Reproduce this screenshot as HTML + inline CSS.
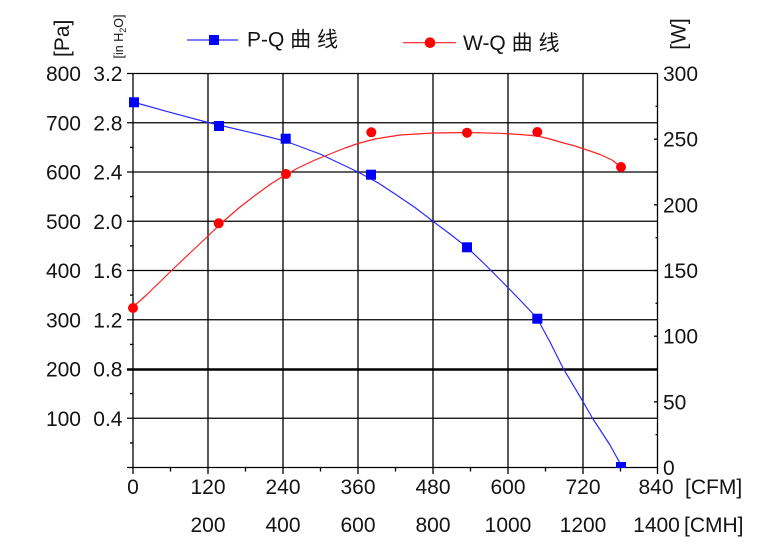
<!DOCTYPE html>
<html>
<head>
<meta charset="utf-8">
<style>
html,body{margin:0;padding:0;background:#fff;}
svg{display:block;}
text{font-family:"Liberation Sans","Noto Sans CJK SC",sans-serif;fill:#141414;}
</style>
</head>
<body>
<svg width="762" height="544" viewBox="0 0 762 544" xmlns="http://www.w3.org/2000/svg">
<rect width="762" height="544" fill="#fff"/>
<!-- grid horizontal -->
<g stroke="#000" stroke-width="1.3" fill="none">
<line x1="127" y1="73.5" x2="657.5" y2="73.5"/>
<line x1="127" y1="122.75" x2="657.5" y2="122.75"/>
<line x1="127" y1="172" x2="657.5" y2="172"/>
<line x1="127" y1="221.25" x2="657.5" y2="221.25"/>
<line x1="127" y1="270.5" x2="657.5" y2="270.5"/>
<line x1="127" y1="319.75" x2="657.5" y2="319.75"/>
<line x1="127" y1="418.25" x2="657.5" y2="418.25"/>
<line x1="127" y1="467.5" x2="657.5" y2="467.5"/>
</g>
<line x1="127" y1="369.5" x2="657.5" y2="369.5" stroke="#000" stroke-width="2.6"/>
<!-- grid vertical -->
<g stroke="#000" stroke-width="1.3" fill="none">
<line x1="133" y1="73.5" x2="133" y2="474"/>
<line x1="208" y1="73.5" x2="208" y2="474"/>
<line x1="283" y1="73.5" x2="283" y2="474"/>
<line x1="358" y1="73.5" x2="358" y2="474"/>
<line x1="433" y1="73.5" x2="433" y2="474"/>
<line x1="508" y1="73.5" x2="508" y2="474"/>
<line x1="583" y1="73.5" x2="583" y2="474"/>
<line x1="657.5" y1="73.5" x2="657.5" y2="474"/>
</g>
<!-- minor ticks -->
<g stroke="#000" stroke-width="1.3">
<line x1="130" y1="98.1" x2="133" y2="98.1"/>
<line x1="130" y1="147.4" x2="133" y2="147.4"/>
<line x1="130" y1="196.6" x2="133" y2="196.6"/>
<line x1="130" y1="245.9" x2="133" y2="245.9"/>
<line x1="130" y1="295.1" x2="133" y2="295.1"/>
<line x1="130" y1="344.4" x2="133" y2="344.4"/>
<line x1="130" y1="393.6" x2="133" y2="393.6"/>
<line x1="130" y1="442.9" x2="133" y2="442.9"/>
<line x1="170.5" y1="467.5" x2="170.5" y2="471.5"/>
<line x1="245.5" y1="467.5" x2="245.5" y2="471.5"/>
<line x1="320.5" y1="467.5" x2="320.5" y2="471.5"/>
<line x1="395.5" y1="467.5" x2="395.5" y2="471.5"/>
<line x1="470.5" y1="467.5" x2="470.5" y2="471.5"/>
<line x1="545.5" y1="467.5" x2="545.5" y2="471.5"/>
<line x1="620.5" y1="467.5" x2="620.5" y2="471.5"/>
<line x1="654" y1="139.2" x2="657.5" y2="139.2"/>
<line x1="654" y1="204.8" x2="657.5" y2="204.8"/>
<line x1="654" y1="270.5" x2="657.5" y2="270.5"/>
<line x1="654" y1="336.2" x2="657.5" y2="336.2"/>
<line x1="654" y1="401.8" x2="657.5" y2="401.8"/>
<line x1="655.5" y1="106.3" x2="657.5" y2="106.3"/>
<line x1="655.5" y1="172" x2="657.5" y2="172"/>
<line x1="655.5" y1="237.7" x2="657.5" y2="237.7"/>
<line x1="655.5" y1="303.3" x2="657.5" y2="303.3"/>
<line x1="655.5" y1="369" x2="657.5" y2="369"/>
<line x1="655.5" y1="434.7" x2="657.5" y2="434.7"/>
</g>
<!-- curves -->
<polyline fill="none" stroke="#2a2aff" stroke-width="1.2" stroke-linejoin="round"
points="133,102 170,112.3 208,122.5 250,132.3 285,141 320,154 358,172 378,182.8 395,194 415,207.5 433,221.3 450,234 467,247.3 485,264.5 500,279.5 520,300 537,318 550,342 563,368 583,401.7 593,419 610,445 621,465"/>
<polyline fill="none" stroke="#ff2020" stroke-width="1.2" stroke-linejoin="round"
points="133,307 147,294.5 170,272 190,253 207,237 222,222.5 240,207 255,195.5 270,184.5 285,175 300,167 315,160 330,154 345,148 358,143.5 375,139 400,135 433,133 467,132.5 500,133.3 520,134.5 537,136 550,139 560,142 575,146 590,151 600,154.5 612,160 621,167"/>
<!-- markers -->
<g fill="#0000ff">
<rect x="129" y="97.3" width="10" height="10"/>
<rect x="214" y="121" width="10" height="10"/>
<rect x="280.7" y="133.7" width="10" height="10"/>
<rect x="366" y="169.7" width="10" height="10"/>
<rect x="462" y="242.3" width="10" height="10"/>
<rect x="532.3" y="313.7" width="10" height="10"/>
<rect x="616" y="462" width="10" height="6"/>
</g>
<g fill="#ff0000">
<circle cx="133" cy="308" r="5"/>
<circle cx="218.7" cy="223.3" r="5"/>
<circle cx="286" cy="174" r="5"/>
<circle cx="371.3" cy="132.3" r="5"/>
<circle cx="467" cy="132.7" r="5"/>
<circle cx="537.3" cy="132" r="5"/>
<circle cx="621" cy="167" r="5"/>
</g>
<!-- legend -->
<line x1="187" y1="40" x2="238" y2="40" stroke="#2a2aff" stroke-width="1.2"/>
<rect x="209" y="35" width="10" height="10" fill="#0000ff"/>
<text x="247" y="46.5" font-size="21">P-Q 曲 线</text>
<line x1="403" y1="42.7" x2="456" y2="42.7" stroke="#ff2020" stroke-width="1.2"/>
<circle cx="430" cy="42.7" r="5.3" fill="#ff0000"/>
<text x="463" y="50" font-size="21">W-Q 曲 线</text>
<!-- axis titles -->
<text transform="translate(69,38.3) rotate(-90)" text-anchor="middle" font-size="21">[Pa]</text>
<text transform="translate(123,36.5) rotate(-90)" text-anchor="middle" font-size="12.5">[in H<tspan font-size="9" dy="3">2</tspan><tspan dy="-3">O]</tspan></text>
<text transform="translate(685.5,34) rotate(-90)" text-anchor="middle" font-size="21">[W]</text>
<!-- left labels -->
<g font-size="21" text-anchor="end">
<text x="81" y="81">800</text>
<text x="81" y="130.3">700</text>
<text x="81" y="179.5">600</text>
<text x="81" y="228.8">500</text>
<text x="81" y="278">400</text>
<text x="81" y="327.3">300</text>
<text x="81" y="376.5">200</text>
<text x="81" y="425.8">100</text>
<text x="122.5" y="81">3.2</text>
<text x="122.5" y="130.3">2.8</text>
<text x="122.5" y="179.5">2.4</text>
<text x="122.5" y="228.8">2.0</text>
<text x="122.5" y="278">1.6</text>
<text x="122.5" y="327.3">1.2</text>
<text x="122.5" y="376.5">0.8</text>
<text x="122.5" y="425.8">0.4</text>
</g>
<!-- right labels -->
<g font-size="21">
<text x="663" y="81">300</text>
<text x="663" y="146.7">250</text>
<text x="663" y="212.3">200</text>
<text x="663" y="278">150</text>
<text x="663" y="343.7">100</text>
<text x="663" y="409.3">50</text>
<text x="663" y="475">0</text>
</g>
<!-- bottom labels -->
<g font-size="21" text-anchor="middle">
<text x="133" y="494.2">0</text>
<text x="208" y="494.2">120</text>
<text x="283" y="494.2">240</text>
<text x="358" y="494.2">360</text>
<text x="433" y="494.2">480</text>
<text x="508" y="494.2">600</text>
<text x="583" y="494.2">720</text>
<text x="656" y="494.2">840</text>
<text x="208" y="532.2">200</text>
<text x="283" y="532.2">400</text>
<text x="358" y="532.2">600</text>
<text x="433" y="532.2">800</text>
<text x="508" y="532.2">1000</text>
<text x="583" y="532.2">1200</text>
<text x="656.5" y="532.2">1400</text>
</g>
<text x="685" y="494.2" font-size="21">[CFM]</text>
<text x="684" y="532.2" font-size="21">[CMH]</text>
</svg>
</body>
</html>
